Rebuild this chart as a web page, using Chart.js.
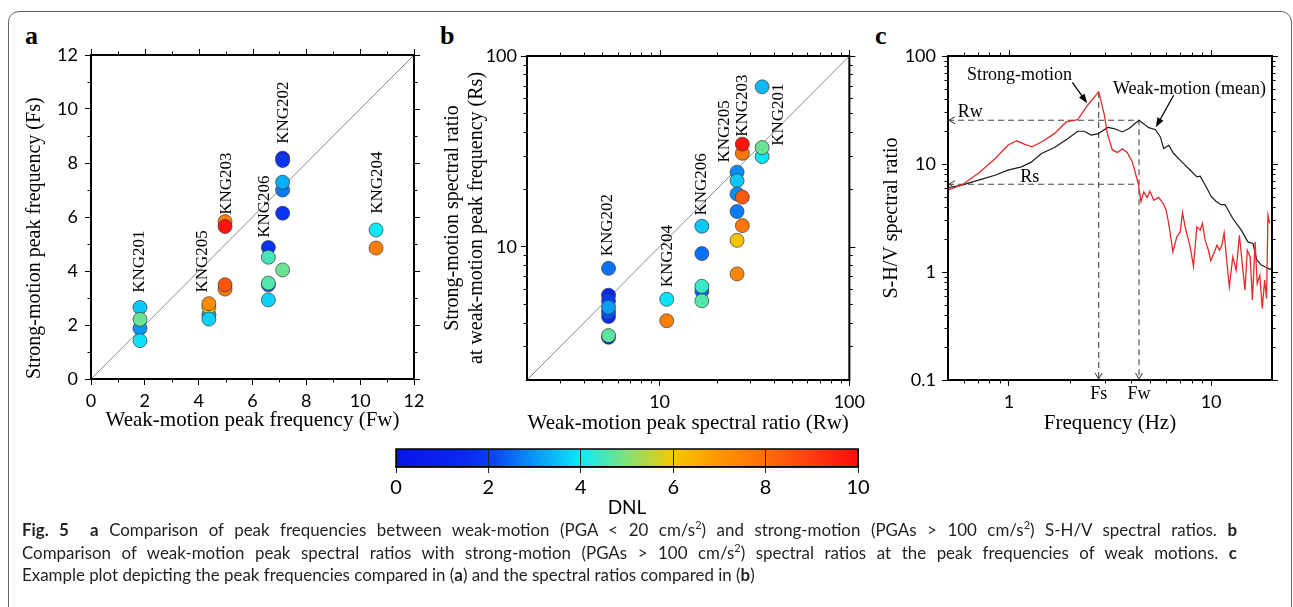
<!DOCTYPE html>
<html>
<head>
<meta charset="utf-8">
<title>Fig. 5</title>
<script src="https://cdn.jsdelivr.net/npm/chart.js@4.4.1/dist/chart.umd.min.js"></script>
<style>
  body { margin: 0; background: #fff; }
  #page { position: relative; width: 1293px; height: 607px; overflow: hidden; background: #fff; }
  canvas { position: absolute; }
  .box { position: absolute; left: 8px; top: 11px; width: 1282px; height: 650px; border: 1px solid #666; border-radius: 11px; }
  .tag { position: absolute; font: bold 26px 'Liberation Serif', serif; line-height: 26px; }
  .cap { position: absolute; left: 22px; width: 1215px; font: 16.9px Lato, sans-serif; line-height: 20px; color: #231f20; white-space: nowrap; text-align: justify; text-align-last: justify; }
  .cap.last { text-align-last: left; }
  sup { font-size: 0.65em; line-height: 0; }
</style>
</head>
<body>
<div id="page">
  <div class="box"></div>
  <div class="tag" style="left:25px;top:23px">a</div>
  <div class="tag" style="left:440px;top:23px">b</div>
  <div class="tag" style="left:875px;top:23px">c</div>
  <canvas id="ca" width="440" height="420" style="left:0;top:20px"></canvas>
  <canvas id="cb" width="430" height="420" style="left:440px;top:20px"></canvas>
  <canvas id="cc" width="423" height="420" style="left:870px;top:20px"></canvas>
  <canvas id="cbar" width="500" height="80" style="left:380px;top:440px"></canvas>
  <div class="cap" style="top:520px"><b>Fig. 5</b>&nbsp; <b>a</b> Comparison of peak frequencies between weak-motion (PGA &lt; 20 cm/s<sup>2</sup>) and strong-motion (PGAs &gt; 100 cm/s<sup>2</sup>) S-H/V spectral ratios. <b>b</b></div>
  <div class="cap" style="top:543px">Comparison of weak-motion peak spectral ratios with strong-motion (PGAs &gt; 100 cm/s<sup>2</sup>) spectral ratios at the peak frequencies of weak motions. <b>c</b></div>
  <div class="cap last" style="top:565px">Example plot depicting the peak frequencies compared in (<b>a</b>) and the spectral ratios compared in (<b>b</b>)</div>
</div>
<script>
const serif = "'Liberation Serif', 'Times New Roman', serif";
const sans = "Lato, 'Open Sans', sans-serif";

// DNL colour scale
const cmapAt  = [0, 1.5, 2, 3, 4, 5, 6, 7, 8, 9, 10];
const cmapRGB = [[8,20,235],[10,40,240],[10,60,245],[10,150,245],[10,235,250],[130,225,120],[245,200,0],[255,150,0],[255,110,10],[255,60,15],[255,10,10]];
const dnlTicks = [0, 2, 4, 6, 8, 10];

// a: weak-motion vs strong-motion peak frequency
const fwA  = [1.82,1.82,1.82,1.82, 4.38,4.38,4.38,4.38, 4.98,4.98,4.98,4.98, 6.59,6.59,6.59,6.59,6.59, 7.12,7.12,7.12,7.12,7.12,7.12, 10.59,10.59];
const fsA  = [2.65,1.88,2.21,1.42, 2.38,2.66,2.79,2.22, 5.83,5.65,3.33,3.49, 3.49,3.55,2.93,4.87,4.51, 8.18,8.09,7.0,7.29,6.14,4.04, 5.52,4.85];
const dnlA = [3.6,3.0,4.8,3.9, 3.2,6.1,7.3,3.7, 7.6,9.8,7.8,8.5, 2.3,4.6,3.7,1.8,4.5, 1.2,1.8,2.7,3.3,1.8,4.8, 4.0,7.6];
const stnA  = ['KNG201','KNG205','KNG203','KNG206','KNG202','KNG204'];
const stnAx = [1.82, 4.16, 5.05, 6.46, 7.17, 10.66];
const stnAy = [3.19, 3.2, 6.08, 5.23, 8.71, 6.12];
const ticksA = [0, 2, 4, 6, 8, 10, 12];
const minorA = [1, 3, 5, 7, 9, 11];
const diagA = [0, 12];

// b: weak-motion peak ratio vs strong-motion ratio at that frequency
const rwB  = [5.38,5.38,5.38,5.38,5.38,5.38,5.38,5.38, 10.9,10.9, 16.7,16.7,16.7,16.7,16.7, 25.6,25.6,25.6,25.6,25.6,25.6, 27.3,27.3,27.3,27.3, 34.7,34.7,34.7];
const rsB  = [7.7,5.57,5.2,4.3,4.53,4.81,3.35,3.42, 5.3,4.09, 12.8,9.2,5.86,6.2,5.2, 24.6,22.2,18.9,15.3,10.8,7.2, 30.9,34.5,18.2,12.9, 68.9,29.7,33.1];
const dnlB = [2.6,1.5,2.0,1.6,2.2,3.1,1.4,4.7, 3.9,7.6, 3.6,2.6,2.4,4.4,4.6, 2.9,3.6,2.9,2.7,6.1,7.4, 7.8,9.8,8.4,7.8, 3.4,3.9,4.8];
const stnB  = ['KNG202','KNG204','KNG206','KNG205','KNG203','KNG201'];
const stnBx = [5.31, 10.97, 16.65, 22.0, 27.5, 42.4];
const stnBy = [8.9, 6.13, 14.56, 27.6, 37.7, 33.8];
const ticksB = [10, 100];
const minorB = [3,4,5,6,7,8,9,20,30,40,50,60,70,80,90];
const diagB = [2, 100];

// c: example S-H/V curves
const freqW  = [0.504,0.586,0.707,0.854,0.99,1.154,1.29,1.45,1.68,1.96,2.19,2.36,2.55,2.75,3.08,3.31,3.64,3.93,4.4,4.92,5.31,5.61,5.83,6.17,6.53,7.18,7.89,8.51,8.83,9.52,10.0,10.6,11.2,11.7,11.9,12.8,14.1,15.2,16.1,16.8,17.7,18.8,19.5,20];
const ratioW = [6.06,6.37,7.08,7.87,8.77,9.4,10.4,12.5,14.2,17.2,20.1,20.1,18.5,19.0,21.8,21.3,19.8,21.3,25.4,21.7,20.8,17.8,13.9,14.9,12.5,10.4,8.75,7.6,7.7,6.0,5.0,4.5,4.2,4.2,4.0,3.13,2.44,1.9,1.84,1.3,1.16,1.1,1.06,1.08];
const freqS  = [0.504,0.586,0.707,0.854,0.99,1.09,1.2,1.3,1.45,1.68,1.92,2.19,2.45,2.78,2.96,3.07,3.25,3.44,3.64,3.85,4.08,4.36,4.5,4.64,4.83,4.98,5.21,5.5,5.8,6.0,6.17,6.47,6.77,7.03,7.22,7.44,7.88,8.18,8.5,8.83,9.06,9.34,9.7,9.96,10.3,10.7,11.0,11.3,11.6,11.9,12.3,12.8,13.3,13.8,14.3,14.7,15.1,15.6,16.0,16.5,16.9,17.4,17.9,18.4,18.8,19.1,19.5];
const ratioS = [5.8,6.4,8.2,11.2,14.9,16.4,15.2,14.4,16.0,19.1,24.5,25.8,35,46.5,29,19,13.5,12.8,13.8,12.8,10.4,6.6,4.5,5.5,4.9,5.6,4.6,4.9,4.3,3.7,2.8,1.54,2.12,2.35,3.53,2.62,1.71,1.13,2.62,2.44,2.82,1.97,1.59,1.27,1.48,1.77,1.59,1.77,2.31,1.38,0.73,1.38,1.04,2.19,1.12,0.68,1.59,1.38,0.55,1.9,0.78,0.93,0.46,0.84,0.57,3.36,2.82];
const fs = 2.78, fw = 4.4, rw = 25.4, rs = 6.5, sPeak = 46.5;
const xRangeC = [0.5, 20], yRangeC = [0.1, 100];
const ticksCx = [1, 10];
const ticksCy = [0.1, 1, 10, 100];
const minorCx = [0.6,0.7,0.8,0.9,2,3,4,5,6,7,8,9];
const minorCy = [0.2,0.3,0.4,0.5,0.6,0.7,0.8,0.9,2,3,4,5,6,7,8,9,20,30,40,50,60,70,80,90];

function jet(v) {
  let i = 0;
  while (i < cmapAt.length - 2 && v > cmapAt[i + 1]) i++;
  const t = Math.max(0, Math.min(1, (v - cmapAt[i]) / (cmapAt[i + 1] - cmapAt[i])));
  const c = cmapRGB[i].map((a, k) => Math.round(a + (cmapRGB[i + 1][k] - a) * t));
  return 'rgb(' + c.join(',') + ')';
}

Chart.defaults.font.family = sans;
Chart.defaults.font.size = 18;
Chart.defaults.color = '#000';
Chart.defaults.animation = false;
Chart.defaults.responsive = false;
Chart.defaults.plugins.legend.display = false;
Chart.defaults.plugins.tooltip.enabled = false;

function axis(o) {
  return {
    type: o.type, position: o.pos, min: o.min, max: o.max,
    afterBuildTicks: s => { s.ticks = o.ticks.map(v => ({value: v})); },
    afterFit: s => { if (o.pos === 'bottom') s.height = o.size; else s.width = o.size; },
    ticks: {padding: o.tickPad, maxRotation: 0, autoSkip: false, callback: v => String(v)},
    grid: {drawOnChartArea: false, tickLength: 6, color: '#000'},
    border: {display: true, color: '#000', width: 2},
    title: {display: true, text: o.title, align: o.align || 'center', padding: o.titlePad,
            font: {family: serif, size: o.pos === 'bottom' ? 21 : 20}}
  };
}

// box round the plot area, mirrored major ticks and all minor ticks
const frameTicks = {
  id: 'frameTicks',
  afterDraw(chart, args, o) {
    const {ctx, chartArea: a, scales: {x, y}} = chart;
    ctx.save();
    ctx.strokeStyle = '#000';
    ctx.lineWidth = 2;
    ctx.strokeRect(a.left, a.top, a.right - a.left, a.bottom - a.top);
    ctx.lineWidth = 1;
    ctx.beginPath();
    const xt = (vals, len, both) => vals.forEach(v => {
      const p = Math.round(x.getPixelForValue(v)) + 0.5;
      ctx.moveTo(p, a.top); ctx.lineTo(p, a.top - len);
      if (both) { ctx.moveTo(p, a.bottom); ctx.lineTo(p, a.bottom + len); }
    });
    const yt = (vals, len, both) => vals.forEach(v => {
      const p = Math.round(y.getPixelForValue(v)) + 0.5;
      ctx.moveTo(a.right, p); ctx.lineTo(a.right + len, p);
      if (both) { ctx.moveTo(a.left, p); ctx.lineTo(a.left - len, p); }
    });
    xt(o.majX, 6, false); yt(o.majY, 6, false);
    xt(o.minX, 3.5, true); yt(o.minY, 3.5, true);
    ctx.stroke();
    ctx.restore();
  }
};

// rotated station names
const stationLabels = {
  id: 'stationLabels',
  afterDatasetsDraw(chart, args, o) {
    if (!o.names) return;
    const {ctx, scales: {x, y}} = chart;
    ctx.save();
    ctx.font = '17px ' + serif;
    ctx.fillStyle = '#000';
    ctx.textAlign = 'left';
    ctx.textBaseline = 'middle';
    o.names.forEach((n, i) => {
      ctx.save();
      ctx.translate(x.getPixelForValue(o.xs[i]), y.getPixelForValue(o.ys[i]));
      ctx.rotate(-Math.PI / 2);
      ctx.fillText(n, 0, 0);
      ctx.restore();
    });
    ctx.restore();
  }
};

// text, pointer arrows and guide arrow heads for panel c
const notes = {
  id: 'notes',
  afterDatasetsDraw(chart, args, o) {
    if (!o.texts) return;
    const {ctx, chartArea: a, scales: {x, y}} = chart;
    ctx.save();
    ctx.fillStyle = '#000';
    ctx.strokeStyle = '#000';
    ctx.font = '18px ' + serif;
    ctx.textAlign = 'center';
    ctx.textBaseline = 'middle';
    o.texts.forEach(t => ctx.fillText(t.t, x.getPixelForValue(t.x), t.below ? a.bottom + 14 : y.getPixelForValue(t.y)));
    ctx.lineWidth = 1.3;
    o.pointers.forEach(p => {
      const x1 = x.getPixelForValue(p.x1), y1 = y.getPixelForValue(p.y1);
      const x2 = x.getPixelForValue(p.x2), y2 = y.getPixelForValue(p.y2);
      const ang = Math.atan2(y2 - y1, x2 - x1);
      ctx.beginPath(); ctx.moveTo(x1, y1); ctx.lineTo(x2 - 6 * Math.cos(ang), y2 - 6 * Math.sin(ang)); ctx.stroke();
      ctx.beginPath();
      ctx.moveTo(x2, y2);
      ctx.lineTo(x2 - 10 * Math.cos(ang - 0.35), y2 - 10 * Math.sin(ang - 0.35));
      ctx.lineTo(x2 - 10 * Math.cos(ang + 0.35), y2 - 10 * Math.sin(ang + 0.35));
      ctx.closePath(); ctx.fill();
    });
    ctx.strokeStyle = '#333';
    ctx.lineWidth = 1;
    ctx.beginPath();
    o.heads.forEach(h => {
      const px = x.getPixelForValue(h.x), py = y.getPixelForValue(h.y);
      if (h.d === 'left') {
        ctx.moveTo(px + 7, py - 3.5); ctx.lineTo(px + 1, py); ctx.lineTo(px + 7, py + 3.5);
      } else {
        ctx.moveTo(px - 3.5, py - 7); ctx.lineTo(px, py - 1); ctx.lineTo(px + 3.5, py - 7);
      }
    });
    ctx.stroke();
    ctx.restore();
  }
};

const colourBar = {
  id: 'colourBar',
  beforeDraw(chart) {
    const {ctx, chartArea: a} = chart;
    const g = ctx.createLinearGradient(a.left, 0, a.right, 0);
    cmapAt.forEach((v, i) => g.addColorStop(v / 10, 'rgb(' + cmapRGB[i].join(',') + ')'));
    ctx.save();
    ctx.fillStyle = g;
    ctx.fillRect(a.left, a.top, a.right - a.left, a.bottom - a.top);
    ctx.restore();
  },
  afterDraw(chart) {
    const {ctx, chartArea: a} = chart;
    ctx.save();
    ctx.strokeStyle = '#000';
    ctx.lineWidth = 1.5;
    ctx.strokeRect(a.left, a.top, a.right - a.left, a.bottom - a.top);
    ctx.restore();
  }
};

const pts = (xs, ys) => xs.map((v, i) => ({x: v, y: ys[i]}));

// panel a
new Chart(document.getElementById('ca'), {
  type: 'scatter',
  data: {datasets: [
    {data: pts(fwA, fsA), backgroundColor: dnlA.map(jet), borderColor: '#3a3a3a', borderWidth: 0.7, pointRadius: 7},
    {type: 'line', data: pts(diagA, diagA), borderColor: '#8a8a8a', borderWidth: 1, pointRadius: 0}
  ]},
  options: {
    layout: {padding: {left: 0, top: 35, right: 26, bottom: 0}},
    scales: {
      x: axis({type: 'linear', pos: 'bottom', min: 0, max: 12, ticks: ticksA, size: 61, tickPad: 5,
               title: 'Weak-motion peak frequency (Fw)', titlePad: 7}),
      y: axis({type: 'linear', pos: 'left', min: 0, max: 12, ticks: ticksA, size: 91, tickPad: 7,
               title: 'Strong-motion peak frequency (Fs)', titlePad: 23, align: 'start'})
    },
    plugins: {
      frameTicks: {majX: ticksA, majY: ticksA, minX: minorA, minY: minorA},
      stationLabels: {names: stnA, xs: stnAx, ys: stnAy}
    }
  },
  plugins: [frameTicks, stationLabels]
});

// panel b
new Chart(document.getElementById('cb'), {
  type: 'scatter',
  data: {datasets: [
    {data: pts(rwB, rsB), backgroundColor: dnlB.map(jet), borderColor: '#3a3a3a', borderWidth: 0.7, pointRadius: 7},
    {type: 'line', data: pts(diagB, diagB), borderColor: '#8a8a8a', borderWidth: 1, pointRadius: 0}
  ]},
  options: {
    layout: {padding: {left: 0, top: 36, right: 19, bottom: 0}},
    scales: {
      x: axis({type: 'logarithmic', pos: 'bottom', min: 2, max: 100, ticks: ticksB, size: 60, tickPad: 5,
               title: 'Weak-motion peak spectral ratio (Rw)', titlePad: 4}),
      y: axis({type: 'logarithmic', pos: 'left', min: 2, max: 100, ticks: ticksB, size: 87, tickPad: 4,
               title: ['Strong-motion spectral ratio', 'at weak-motion peak frequency (Rs)'], titlePad: 1})
    },
    plugins: {
      frameTicks: {majX: ticksB, majY: ticksB, minX: minorB, minY: minorB},
      stationLabels: {names: stnB, xs: stnBx, ys: stnBy}
    }
  },
  plugins: [frameTicks, stationLabels]
});

// panel c
new Chart(document.getElementById('cc'), {
  type: 'scatter',
  data: {datasets: [
    {data: pts(freqS, ratioS), showLine: true, borderColor: '#e32b2b', borderWidth: 1.3, pointRadius: 0},
    {data: pts(freqW, ratioW), showLine: true, borderColor: '#1a1a1a', borderWidth: 1.2, pointRadius: 0},
    {data: [{x: xRangeC[0], y: rw}, {x: fw, y: rw}, {x: fw, y: yRangeC[0]}], showLine: true, borderColor: '#444', borderWidth: 1.1, borderDash: [6, 4], pointRadius: 0},
    {data: [{x: xRangeC[0], y: rs}, {x: fw, y: rs}], showLine: true, borderColor: '#444', borderWidth: 1.1, borderDash: [6, 4], pointRadius: 0},
    {data: [{x: fs, y: sPeak}, {x: fs, y: yRangeC[0]}], showLine: true, borderColor: '#444', borderWidth: 1.1, borderDash: [6, 4], pointRadius: 0}
  ]},
  options: {
    layout: {padding: {left: 0, top: 36, right: 21, bottom: 0}},
    scales: {
      x: axis({type: 'logarithmic', pos: 'bottom', min: xRangeC[0], max: xRangeC[1], ticks: ticksCx, size: 60, tickPad: 5,
               title: 'Frequency (Hz)', titlePad: 4}),
      y: axis({type: 'logarithmic', pos: 'left', min: yRangeC[0], max: yRangeC[1], ticks: ticksCy, size: 78, tickPad: 6,
               title: 'S-H/V spectral ratio', titlePad: 10})
    },
    plugins: {
      frameTicks: {majX: ticksCx, majY: ticksCy, minX: minorCx, minY: minorCy},
      notes: {
        texts: [
          {t: 'Strong-motion', x: 1.13, y: 66},
          {t: 'Weak-motion (mean)', x: 7.82, y: 49.2},
          {t: 'Rw', x: 0.644, y: 30.3},
          {t: 'Rs', x: 1.27, y: 7.6},
          {t: 'Fs', x: fs, below: true},
          {t: 'Fw', x: fw, below: true}
        ],
        pointers: [
          {x1: 2.06, y1: 57, x2: 2.44, y2: 36.5},
          {x1: 6.53, y1: 43.3, x2: 5.33, y2: 21.9}
        ],
        heads: [
          {x: xRangeC[0], y: rw, d: 'left'},
          {x: xRangeC[0], y: rs, d: 'left'},
          {x: fs, y: yRangeC[0], d: 'down'},
          {x: fw, y: yRangeC[0], d: 'down'}
        ]
      }
    }
  },
  plugins: [frameTicks, notes]
});

// colour bar
new Chart(document.getElementById('cbar'), {
  type: 'scatter',
  data: {datasets: []},
  options: {
    layout: {padding: {left: 16, top: 9, right: 22, bottom: 0}},
    scales: {
      x: {type: 'linear', min: 0, max: 10,
          afterBuildTicks: s => { s.ticks = dnlTicks.map(v => ({value: v})); },
          afterFit: s => { s.height = 53; },
          ticks: {font: {size: 20}, padding: 3, maxRotation: 0, autoSkip: false},
          grid: {drawOnChartArea: true, color: '#222', tickLength: 6},
          border: {display: true, color: '#000', width: 1.5},
          title: {display: true, text: 'DNL', font: {size: 19}, padding: 1}},
      y: {display: false, min: 0, max: 1}
    }
  },
  plugins: [colourBar]
});
</script>
</body>
</html>
